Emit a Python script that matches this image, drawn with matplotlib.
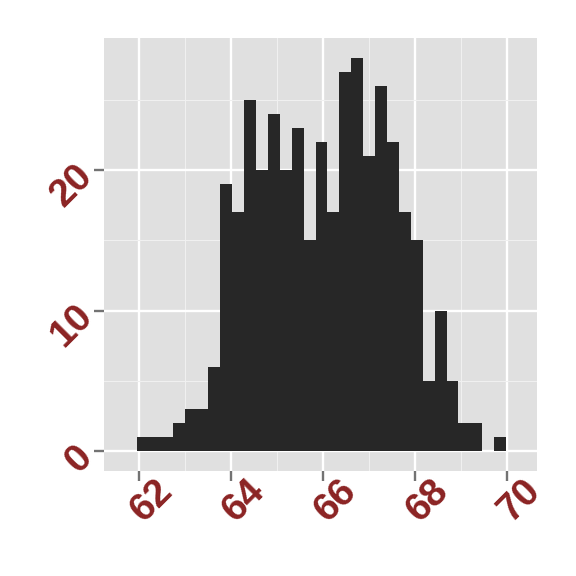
import matplotlib
matplotlib.use("Agg")
import matplotlib.pyplot as plt
import numpy as np

# ---- data ----
counts = [1, 1, 1, 2, 3, 3, 6, 19, 17, 25, 20, 24, 20, 23, 15, 22,
          17, 27, 28, 21, 26, 22, 17, 15, 5, 10, 5, 2, 2, 0, 1]
bin_left = 61.95
bin_width = 0.259
x_ticks = [62, 64, 66, 68, 70]
x_tick_labels = ["62", "64", "66", "68", "70"]
x_minor = [63, 65, 67, 69]
y_ticks = [0, 10, 20]
y_tick_labels = ["0", "10", "20"]
y_minor = [5, 15, 25]

label_color = "#8B2323"
bar_color = "#272727"
panel_bg = "#E0E0E0"

fig = plt.figure(figsize=(5.76, 5.76), dpi=100)
ax = fig.add_axes([104 / 576, 1 - 471 / 576, (537.3 - 104) / 576, (471 - 38) / 576])
ax.set_facecolor(panel_bg)

lefts = [bin_left + i * bin_width for i in range(len(counts))]
ax.bar(lefts, counts, width=bin_width, align="edge", color=bar_color,
       linewidth=0, zorder=3)

ax.set_xlim(61.23, 70.66)
ax.set_ylim(-1.4, 29.4)

ax.set_xticks(x_ticks)
ax.set_xticklabels(x_tick_labels)
ax.set_yticks(y_ticks)
ax.set_yticklabels(y_tick_labels)
ax.set_xticks(x_minor, minor=True)
ax.set_yticks(y_minor, minor=True)

ax.grid(which="major", color="white", linewidth=1.7, zorder=1)
ax.grid(which="minor", color="#F0F0F0", linewidth=0.8, zorder=0.5)
ax.set_axisbelow(True)

for s in ax.spines.values():
    s.set_visible(False)

ax.tick_params(which="major", length=7.2, width=1.7, color="#737373",
               direction="out")
ax.tick_params(which="minor", length=0)
ax.tick_params(axis="x", pad=5)
ax.tick_params(axis="y", pad=5)

for lab in ax.get_xticklabels():
    lab.set_rotation(45)
    lab.set_rotation_mode("anchor")
    lab.set_ha("center")
    lab.set_va("top")
    lab.set_color(label_color)
    lab.set_fontsize(28)
    lab.set_fontweight("bold")
    lab.set_family("Liberation Sans")

for lab in ax.get_yticklabels():
    lab.set_rotation(45)
    lab.set_rotation_mode("anchor")
    lab.set_ha("right")
    lab.set_va("center")
    lab.set_color(label_color)
    lab.set_fontsize(28)
    lab.set_fontweight("bold")
    lab.set_family("Liberation Sans")

fig.savefig("out.png", dpi=100, facecolor="white")
